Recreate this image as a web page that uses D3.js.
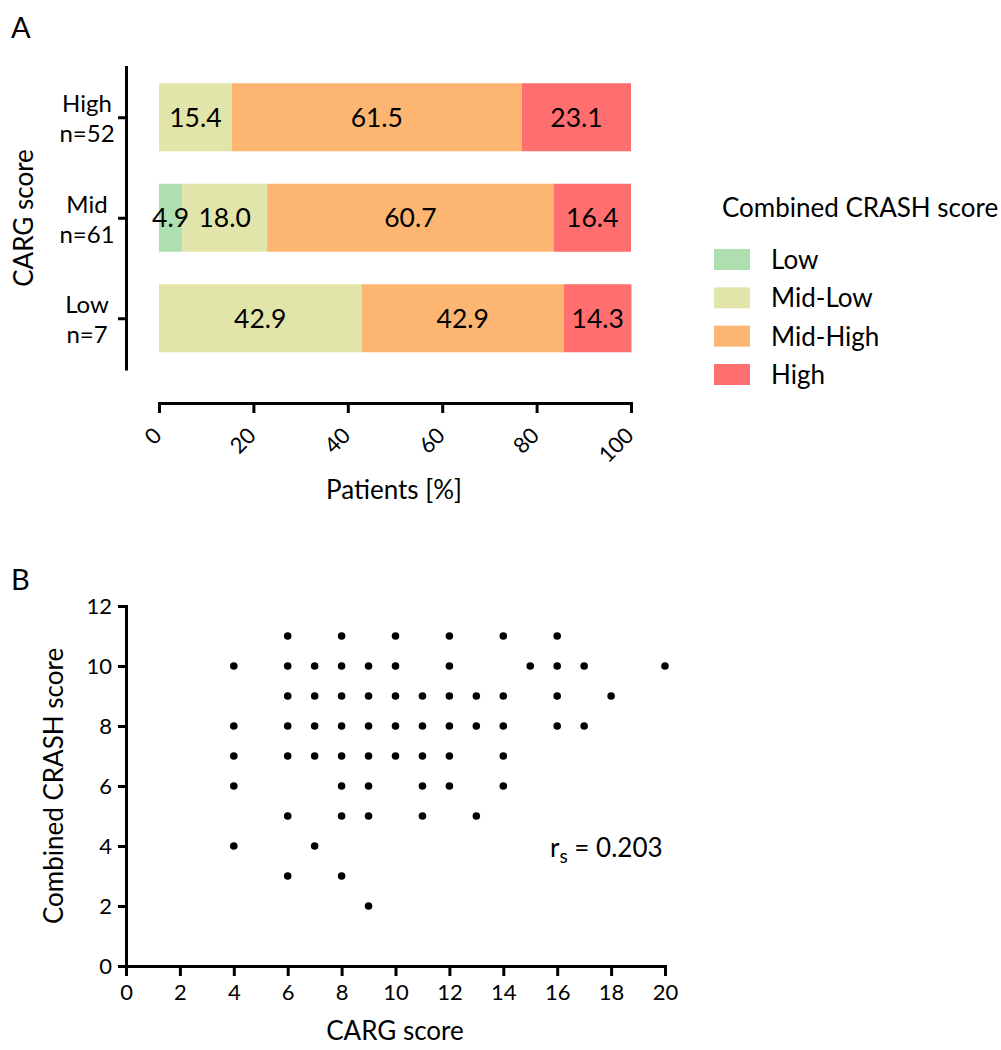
<!DOCTYPE html>
<html>
<head>
<meta charset="utf-8">
<script src="https://cdn.jsdelivr.net/npm/d3@7"></script>
<style>
  html, body { margin: 0; padding: 0; background: #fff; }
  text { font-family: Lato, "Open Sans", sans-serif; fill: #000; }
</style>
</head>
<body>
<svg id="chart" width="1001" height="1050"></svg>
<script>
// ---------- Data: panel A ----------
const cargGroups = ["High", "Mid", "Low"];
const cargCounts = ["n=52", "n=61", "n=7"];
const crashLevels = ["Low", "Mid-Low", "Mid-High", "High"];
const pctLowCrash     = [0.0, 4.9, 0.0];
const pctMidLowCrash  = [15.4, 18.0, 42.9];
const pctMidHighCrash = [61.5, 60.7, 42.9];
const pctHighCrash    = [23.1, 16.4, 14.3];
const levelColors = ["#aedfb0", "#e1e5a9", "#fdb672", "#ff6f6f"];
const pctTicks = [0, 20, 40, 60, 80, 100];

// ---------- Data: panel B (CARG score, Combined CRASH score) ----------
const cargScore = [
  6, 8, 10, 12, 14, 16,
  4, 6, 7, 8, 9, 10, 12, 15, 16, 17, 20,
  6, 7, 8, 9, 10, 11, 12, 13, 14, 16, 18,
  4, 6, 7, 8, 9, 10, 11, 12, 13, 14, 16, 17,
  4, 6, 7, 8, 9, 10, 11, 12, 14,
  4, 8, 9, 11, 12, 14,
  6, 8, 9, 11, 13,
  4, 7,
  6, 8,
  9
];
const crashScore = [
  11, 11, 11, 11, 11, 11,
  10, 10, 10, 10, 10, 10, 10, 10, 10, 10, 10,
  9, 9, 9, 9, 9, 9, 9, 9, 9, 9, 9,
  8, 8, 8, 8, 8, 8, 8, 8, 8, 8, 8, 8,
  7, 7, 7, 7, 7, 7, 7, 7, 7,
  6, 6, 6, 6, 6, 6,
  5, 5, 5, 5, 5,
  4, 4,
  3, 3,
  2
];
const cargTicks = [0, 2, 4, 6, 8, 10, 12, 14, 16, 18, 20];
const crashTicks = [0, 2, 4, 6, 8, 10, 12];
const spearman = "0.203";

// ---------- Drawing ----------
const svg = d3.select("#chart");
svg.append("rect").attr("width", 1001).attr("height", 1050).attr("fill", "#fff");

function styleAxis(g) {
  g.selectAll("path, line").attr("stroke", "#000").attr("stroke-width", 3);
  g.select(".domain").attr("stroke-linecap", "square");
}

// Panel label A
svg.append("text").attr("x", 11).attr("y", 38).attr("font-size", 29).text("A");

// Panel A scales
const xA = d3.scaleLinear().domain([0, 100]).range([159, 631]);
const yBand = d3.scaleBand().domain(cargGroups).range([67, 368.5])
  .paddingInner(0.323).paddingOuter(0.1615);
const yPt = d3.scalePoint().domain(cargGroups).range([67, 368.5]).padding(0.5);

// stacked data
const rows = cargGroups.map((g, i) => ({
  group: g,
  vals: [pctLowCrash[i], pctMidLowCrash[i], pctMidHighCrash[i], pctHighCrash[i]]
}));
const gA = svg.append("g");
rows.forEach(r => {
  let acc = 0;
  r.vals.forEach((v, j) => {
    const x0 = acc; acc += v;
    if (v <= 0) return;
    gA.append("rect")
      .attr("x", xA(x0)).attr("width", xA(acc) - xA(x0))
      .attr("y", yBand(r.group)).attr("height", yBand.bandwidth())
      .attr("fill", levelColors[j]);
  });
  acc = 0;
  r.vals.forEach((v, j) => {
    const x0 = acc; acc += v;
    if (v <= 0) return;
    gA.append("text")
      .attr("x", (xA(x0) + xA(acc)) / 2)
      .attr("y", yBand(r.group) + yBand.bandwidth() / 2)
      .attr("dy", "0.36em")
      .attr("text-anchor", "middle")
      .attr("font-size", 26.5)
      .text(v.toFixed(1));
  });
});

// Panel A y axis
const yAxisA = svg.append("g").attr("transform", "translate(126,0)")
  .call(d3.axisLeft(yPt).tickSize(8).tickSizeOuter(0).tickFormat(""));
styleAxis(yAxisA);
cargGroups.forEach((g, i) => {
  const t = svg.append("text").attr("text-anchor", "middle").attr("font-size", 24);
  t.append("tspan").attr("x", 87).attr("y", yPt(g) - 5).text(g);
  t.append("tspan").attr("x", 87).attr("y", yPt(g) + 25).text(cargCounts[i]);
});
svg.append("text")
  .attr("transform", "translate(33,218) rotate(-90)")
  .attr("text-anchor", "middle").attr("font-size", 26)
  .text("CARG score");

// Panel A x axis
const xAxisA = svg.append("g").attr("transform", "translate(0,403)")
  .call(d3.axisBottom(xA).tickValues(pctTicks).tickSize(10).tickSizeOuter(0).tickFormat(""));
styleAxis(xAxisA);
pctTicks.forEach(t => {
  svg.append("text")
    .attr("transform", `translate(${xA(t) + 4},437) rotate(-45)`)
    .attr("text-anchor", "end").attr("font-size", 22)
    .text(t);
});
svg.append("text").attr("x", 394).attr("y", 499).attr("text-anchor", "middle")
  .attr("font-size", 26).text("Patients [%]");

// Legend
svg.append("text").attr("x", 722).attr("y", 217).attr("font-size", 26).text("Combined CRASH score");
const legY = d3.scalePoint().domain(crashLevels).range([249, 364]);
crashLevels.forEach((l, j) => {
  svg.append("rect").attr("x", 714).attr("y", legY(l)).attr("width", 36).attr("height", 21)
    .attr("fill", levelColors[j]);
  svg.append("text").attr("x", 771).attr("y", legY(l) + 20).attr("font-size", 26).text(l);
});

// Panel label B
svg.append("text").attr("x", 11).attr("y", 590).attr("font-size", 29).text("B");

// Panel B scales
const xB = d3.scaleLinear().domain([0, 20]).range([126, 665]);
const yB = d3.scaleLinear().domain([0, 12]).range([966, 606]);

const yAxisB = svg.append("g").attr("transform", "translate(126,0)")
  .call(d3.axisLeft(yB).tickValues(crashTicks).tickSize(8).tickSizeOuter(0).tickPadding(6));
styleAxis(yAxisB);
yAxisB.selectAll("text").attr("font-size", 22).attr("font-family", "Lato").attr("fill", "#000");

const xAxisB = svg.append("g").attr("transform", "translate(0,966)")
  .call(d3.axisBottom(xB).tickValues(cargTicks).tickSize(10).tickSizeOuter(0).tickPadding(8));
styleAxis(xAxisB);
xAxisB.selectAll("text").attr("font-size", 22).attr("font-family", "Lato").attr("fill", "#000");

svg.append("text")
  .attr("transform", "translate(63,786) rotate(-90)")
  .attr("text-anchor", "middle").attr("font-size", 26)
  .text("Combined CRASH score");
svg.append("text").attr("x", 395).attr("y", 1040).attr("text-anchor", "middle")
  .attr("font-size", 26).text("CARG score");

// scatter points
svg.append("g").selectAll("circle")
  .data(cargScore.map((c, i) => ({ c, s: crashScore[i] })))
  .join("circle")
  .attr("cx", d => xB(d.c)).attr("cy", d => yB(d.s))
  .attr("r", 3.8).attr("fill", "#000");

// Spearman annotation
const rt = svg.append("text").attr("x", 550).attr("y", 857).attr("font-size", 26);
rt.append("tspan").text("r");
rt.append("tspan").attr("font-size", 19).attr("dy", 6).text("s");
rt.append("tspan").attr("dy", -6).text(" = " + spearman);
</script>
</body>
</html>
